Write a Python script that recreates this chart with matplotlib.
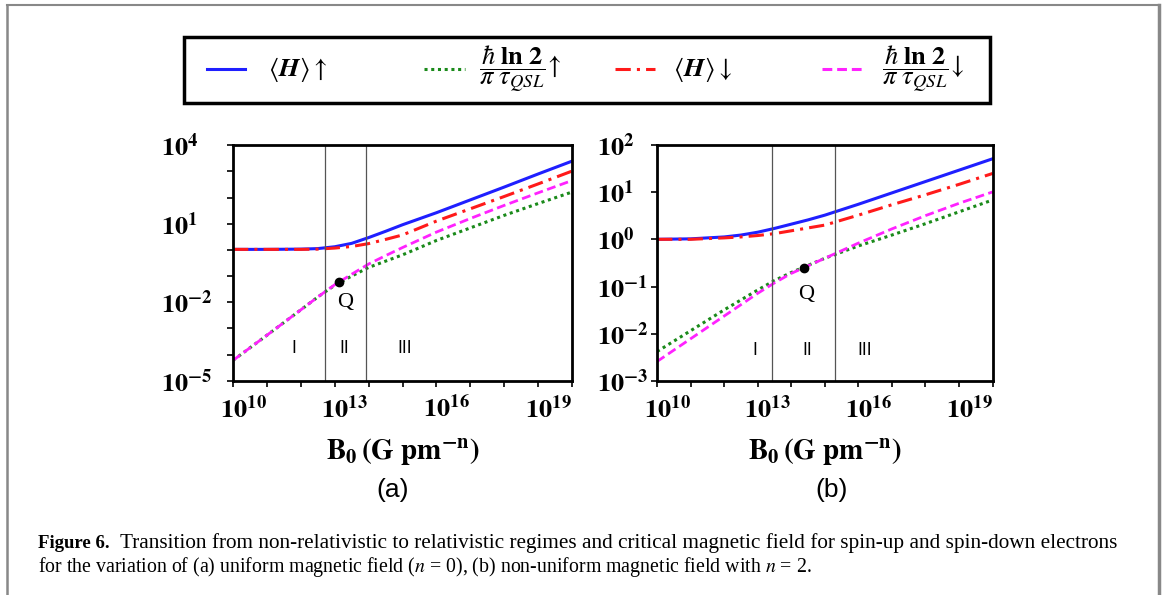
import numpy as np
import matplotlib
matplotlib.use("Agg")
import matplotlib.pyplot as plt
import matplotlib.transforms as mtransforms
from matplotlib.lines import Line2D
from matplotlib.patches import Rectangle

plt.rcParams['mathtext.fontset'] = 'stix'
plt.rcParams['font.family'] = ['DejaVu Sans']

# log10(B0) sample points
logB = [10, 11, 12, 12.5, 13, 13.5, 14, 14.5, 15, 16, 17, 18, 19, 20]

# panel (a), uniform field n=0 -- log10 of each curve
a_H_up = [0.02, 0.02, 0.03, 0.05, 0.12, 0.25, 0.47, 0.71, 0.96, 1.42, 1.91, 2.40, 2.90, 3.39]
a_H_dn = [0.02, 0.02, 0.02, 0.03, 0.07, 0.13, 0.24, 0.40, 0.57, 1.10, 1.57, 2.04, 2.52, 3.01]
a_Q_up = [-4.22, -3.26, -2.29, -1.80, -1.35, -1.00, -0.67, -0.43, -0.19, 0.36, 0.84, 1.32, 1.77, 2.21]
a_Q_dn = [-4.22, -3.26, -2.29, -1.80, -1.33, -0.93, -0.54, -0.22, 0.09, 0.68, 1.20, 1.70, 2.18, 2.65]

# panel (b), non-uniform field n=2
b_H_up = [0.00, 0.01, 0.05, 0.09, 0.15, 0.23, 0.32, 0.41, 0.51, 0.74, 0.98, 1.22, 1.46, 1.70]
b_H_dn = [0.00, 0.00, 0.03, 0.05, 0.08, 0.12, 0.18, 0.24, 0.30, 0.51, 0.73, 0.94, 1.16, 1.39]
b_Q_up = [-2.37, -1.93, -1.49, -1.28, -1.07, -0.87, -0.70, -0.55, -0.40, -0.14, 0.09, 0.33, 0.58, 0.83]
b_Q_dn = [-2.58, -2.10, -1.62, -1.38, -1.14, -0.92, -0.72, -0.56, -0.40, -0.08, 0.22, 0.50, 0.76, 1.00]

# region boundaries, Q points, text spots (log10)
a_bounds = [12.71, 13.91]
b_bounds = [13.44, 15.31]
a_Q = (13.14, -1.23)
b_Q = (14.37, -0.61)
a_regions = [(11.79, -3.75), (13.28, -3.75), (15.06, -3.75)]
b_regions = [(12.90, -2.33), (14.47, -2.33), (16.19, -2.33)]
region_names = ['I', 'II', 'III']

blue, green, red, magenta = '#1f1fff', '#1a8a1a', '#ff1a1a', '#ff22ff'

fig = plt.figure(figsize=(11.65, 5.95), dpi=100)

def tolin(v):
    return 10.0 ** np.array(v)

def panel(rect, up, dn, qup, qdn, ylim, yticks, ylabs, ypad, bounds, Q, regions, Qlab):
    ax = fig.add_axes(rect)
    x = tolin(logB)
    ax.plot(x, tolin(qup), color=green, lw=2.2, ls=(0, (1, 1.2)))
    ax.plot(x, tolin(qdn), color=magenta, lw=2.0, ls=(0, (3.2, 1.6)))
    ax.plot(x, tolin(up), color=blue, lw=2.2)
    ax.plot(x, tolin(dn), color=red, lw=2.2, ls=(0, (5, 2, 1, 2)))
    for b in bounds:
        ax.axvline(10 ** b, color='#555555', lw=0.9)
    ax.plot(10 ** Q[0], 10 ** Q[1], 'o', color='black', ms=6, zorder=5)
    ax.text(10 ** Qlab[0], 10 ** Qlab[1], 'Q', fontsize=16, family='Liberation Serif',
            ha='center', va='center')
    for (rx, ry), nm in zip(regions, region_names):
        ax.text(10 ** rx, 10 ** ry, nm, fontsize=12, ha='center', va='center')
    ax.set_xscale('log')
    ax.set_yscale('log')
    ax.set_xlim(1e10, 1e20)
    ax.set_ylim(*ylim)
    ax.set_xticks([10.0 ** k for k in range(10, 21)])
    ax.set_xticklabels([r'$\mathbf{10^{%d}}$' % k if k in (10, 13, 16, 19) else '' for k in range(10, 21)])
    ax.set_yticks(yticks)
    ax.set_yticklabels(ylabs)
    ax.minorticks_off()
    ax.tick_params(direction='out', length=4, width=1.2, labelsize=19)
    ax.tick_params(axis='x', pad=7)
    ax.tick_params(axis='y', pad=ypad)
    for lab in ax.get_yticklabels():
        lab.set_horizontalalignment('left')
    off = mtransforms.ScaledTranslation(10 / 100, 0, fig.dpi_scale_trans)
    for lab in ax.get_xticklabels():
        lab.set_transform(lab.get_transform() + off)
    for s in ax.spines.values():
        s.set_linewidth(2)
    ax.set_xlabel(r'$\mathbf{B_0\,(G\ pm^{-n})}$', fontsize=21, labelpad=9)
    return ax

ya = [10.0 ** k for k in range(-5, 5)]
yla = [r'$\mathbf{10^{%d}}$' % k if k in (-5, -2, 1, 4) else '' for k in range(-5, 5)]
panel([0.200, 0.360, 0.291, 0.396], a_H_up, a_H_dn, a_Q_up, a_Q_dn, (1e-5, 1e4),
      ya, yla, 48, a_bounds, a_Q, a_regions, (13.30, -2.0))

yb = [10.0 ** k for k in range(-3, 3)]
ylb = [r'$\mathbf{10^{%d}}$' % k for k in range(-3, 3)]
panel([0.564, 0.359, 0.288, 0.398], b_H_up, b_H_dn, b_Q_up, b_Q_dn, (1e-3, 1e2),
      yb, ylb, 39, b_bounds, b_Q, b_regions, (14.45, -1.17))

fig.text(393 / 1165, 1 - 490 / 595, '(a)', fontsize=19, ha='center', va='center',
         family='Liberation Sans')
fig.text(832 / 1165, 1 - 490 / 595, '(b)', fontsize=19, ha='center', va='center',
         family='Liberation Sans')

# legend drawn by hand in figure pixels
W, H = 1165.0, 595.0
def fx(p):
    return p / W
def fy(p):
    return 1 - p / H

fig.add_artist(Rectangle((fx(184), fy(103)), fx(990) - fx(184), fy(37) - fy(103),
                         transform=fig.transFigure, fill=False, lw=2.5, ec='black'))
ly = 69
frac = r'\dfrac{\hbar\ \mathbf{ln\ 2}}{\pi\ \tau_{QSL}}'
items = [
    (blue, '-', 207, 245, r'$\langle \mathbfit{H} \rangle\uparrow$', 268),
    (green, (0, (1, 1.2)), 424, 465, r'$' + frac + r'\!\uparrow$', 479),
    (red, (0, (5, 2, 1, 2)), 615, 655, r'$\langle \mathbfit{H} \rangle\downarrow$', 673),
    (magenta, (0, (3.2, 1.6)), 822, 862, r'$' + frac + r'\!\downarrow$', 882),
]
for col, ls, x0, x1, lab, tx in items:
    fig.add_artist(Line2D([fx(x0), fx(x1)], [fy(ly), fy(ly)], color=col, ls=ls, lw=2.2,
                          transform=fig.transFigure))
    fig.text(fx(tx), fy(ly), lab, fontsize=19, ha='left', va='center')

# caption
fig.text(fx(38), fy(543), 'Figure 6.', fontsize=13.5, weight='bold',
         family='Liberation Serif', va='center')
fig.text(fx(120), fy(543), 'Transition from non-relativistic to relativistic regimes and critical '
         'magnetic field for spin-up and spin-down electrons', fontsize=15.3,
         family='Liberation Serif', va='center')
fig.text(fx(38), fy(567), r'for the variation of (a) uniform magnetic field ($n$ = 0), '
         r'(b) non-uniform magnetic field with $n$ = 2.', fontsize=14.3,
         family='Liberation Serif', va='center')

# outer page frame
fc = '#888888'
fig.add_artist(Line2D([fx(7), fx(1159)], [fy(4.5), fy(4.5)], color=fc, lw=1.5, transform=fig.transFigure))
fig.add_artist(Line2D([fx(7), fx(7)], [fy(4.5), 0], color=fc, lw=1.8, transform=fig.transFigure))
fig.add_artist(Line2D([fx(1159), fx(1159)], [fy(4.5), 0], color=fc, lw=2.5, transform=fig.transFigure))

fig.savefig('out.png', dpi=100)
